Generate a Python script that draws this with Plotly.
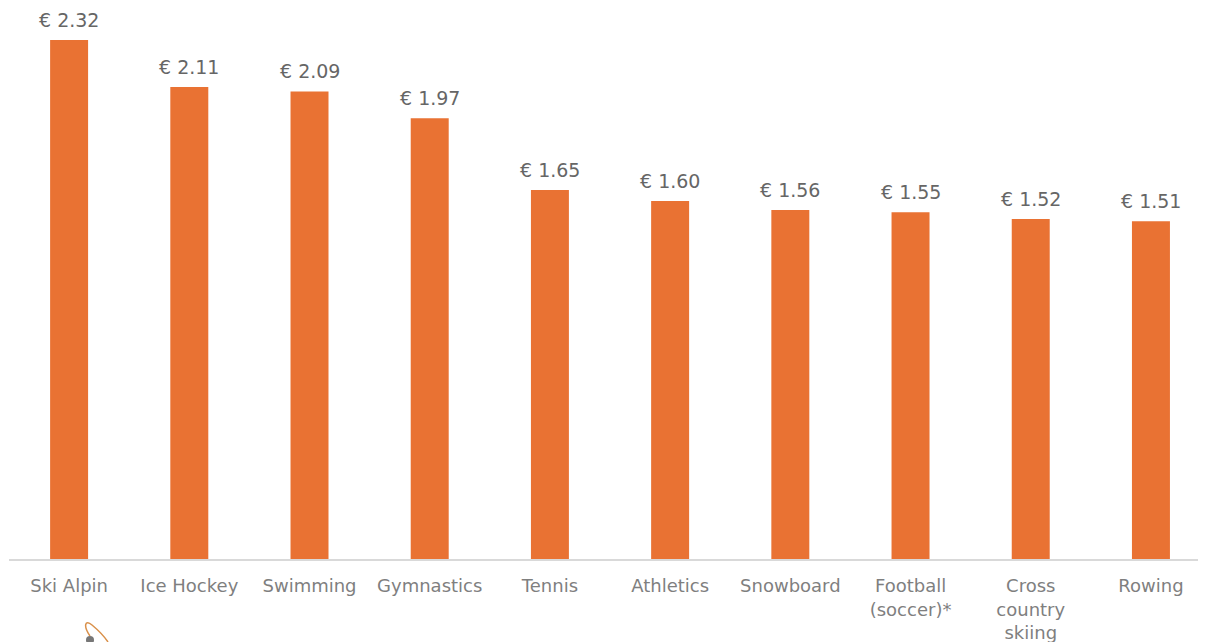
import plotly.graph_objects as go

categories = ["Ski Alpin", "Ice Hockey", "Swimming", "Gymnastics", "Tennis",
              "Athletics", "Snowboard", "Football<br>(soccer)*", "Cross<br>country<br>skiing", "Rowing"]
values = [2.32, 2.11, 2.09, 1.97, 1.65, 1.60, 1.56, 1.55, 1.52, 1.51]
value_labels = ["€ %.2f" % v for v in values]

BAR_COLOR = "#E97233"
FONT = "DejaVu Sans, Verdana, sans-serif"

W, H = 1198, 634
ML, MR, MT, MB = 1, 0, 0, 83

fig = go.Figure()
fig.add_trace(go.Bar(
    x=list(range(len(categories))), y=values,
    marker=dict(color=BAR_COLOR, line=dict(width=0)),
    width=0.316,
    hoverinfo="skip",
))

for i, (v, t) in enumerate(zip(values, value_labels)):
    fig.add_annotation(x=i, y=v, text=t, showarrow=False, yanchor="bottom",
                       yshift=7, font=dict(family=FONT, size=19, color="#666666"))


# partial logo decoration at bottom-left (pixel -> paper helper)
def px(fx, fy):
    pw, ph = W - ML - MR, H - MT - MB
    return (fx - ML) / pw, (H - MB - fy) / ph


p = [px(*c) for c in [(82, 628), (75, 618), (77, 611), (84, 617), (90, 622), (96, 628), (100, 634)]]
path = "M {} {} C {} {} {} {} {} {} C {} {} {} {} {} {}".format(
    *[v for pt in p for v in pt])
fig.add_shape(type="path", path=path, xref="paper", yref="paper",
              line=dict(color="#D9904A", width=1.5))
c0, c1 = px(78, 628), px(86, 636)
fig.add_shape(type="circle", xref="paper", yref="paper", x0=c0[0], y0=c0[1], x1=c1[0], y1=c1[1],
              fillcolor="#777777", line=dict(width=0))

fig.update_layout(
    width=W, height=H,
    margin=dict(l=ML, r=MR, t=MT, b=MB),
    paper_bgcolor="white", plot_bgcolor="white",
    showlegend=False,
    font=dict(family=FONT, size=18, color="#7f7f7f"),
    xaxis=dict(
        tickmode="array", tickvals=list(range(len(categories))), ticktext=categories,
        range=[-0.5, 9.458], showgrid=False, zeroline=False,
        showline=True, linecolor="#d9d9d9", linewidth=1.5,
        ticks="", tickfont=dict(family=FONT, size=18, color="#7f7f7f"),
        tickangle=0, ticklabelstandoff=10,
    ),
    yaxis=dict(range=[0, 2.463], visible=False, showgrid=False, zeroline=False),
)

fig.write_html("out.html")
